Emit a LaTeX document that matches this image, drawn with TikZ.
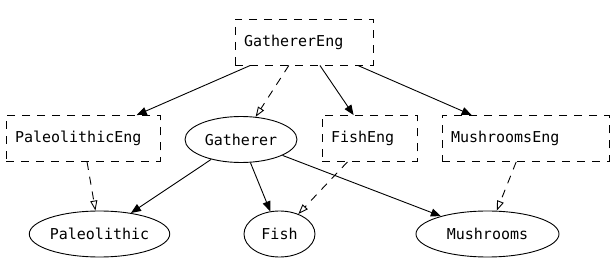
\documentclass[tikz,border=0pt]{standalone}
\usepackage{fontspec}
\setmonofont{DejaVu Sans Mono}
\usetikzlibrary{shapes.geometric, arrows.meta}

\begin{document}
\begin{tikzpicture}[
    x=1pt, y=-1pt,
    font=\ttfamily\fontsize{15}{18}\selectfont,
    eng/.style={draw, dash pattern=on 8pt off 7pt, line width=0.9pt,
                inner xsep=9pt, align=left, minimum height=46pt},
    cls/.style={draw, ellipse, line width=0.9pt, inner sep=0pt, minimum height=46pt},
    arr/.style={-{Triangle[length=10pt, width=8pt]}, line width=0.9pt},
    impl/.style={-{Triangle[open, length=10pt, width=7pt]}, line width=0.9pt,
                 dash pattern=on 8pt off 7pt}
]
\useasboundingbox (0,0) rectangle (616,275);

% engine boxes
\node[eng, text width=120pt] (gathEng) at (304, 42)    {GathererEng};
\node[eng, text width=136pt] (paleEng) at (83, 138.5)  {PaleolithicEng};
\node[eng, text width=77pt]  (fishEng) at (369.5, 138.5) {FishEng};
\node[eng, text width=149pt] (mushEng) at (525.5, 138.5) {MushroomsEng};

% classes
\node[cls, minimum width=112pt] (gath) at (241, 139.5) {Gatherer};
\node[cls, minimum width=127pt] (pale) at (99.5, 234)  {Paleolithic};
\node[cls, minimum width=71pt]  (fish) at (279.5, 234) {Fish};
\node[cls, minimum width=143pt] (mush) at (487.5, 234) {Mushrooms};

% GathererEng uses the other engines
\draw[arr] (gathEng) -- (paleEng);
\draw[arr] (gathEng) -- (fishEng);
\draw[arr] (gathEng) -- (mushEng);

% Gatherer depends on the classes
\draw[arr] (gath) -- (pale);
\draw[arr] (gath) -- (fish);
\draw[arr] (gath) -- (mush);

% engines realise classes
\draw[impl] (gathEng) -- (gath);
\draw[impl] (paleEng) -- (pale);
\draw[impl] (fishEng) -- (fish);
\draw[impl] (mushEng) -- (mush);

\end{tikzpicture}
\end{document}
